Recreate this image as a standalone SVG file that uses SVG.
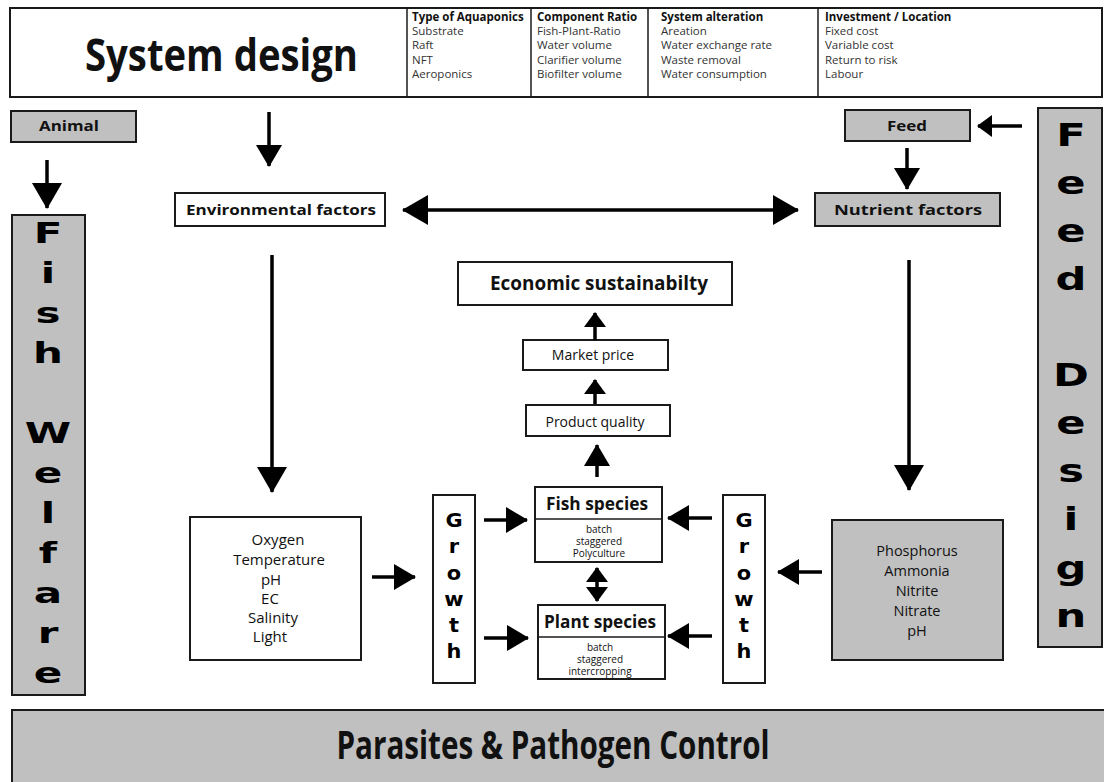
<svg xmlns="http://www.w3.org/2000/svg" width="1104" height="782" viewBox="0 0 1104 782">
<style>
.box{fill:#fff;stroke:#1a1a1a;stroke-width:2}
.gbox{fill:#c0c0c0;stroke:#1a1a1a;stroke-width:2}
.t{font-family:"Open Sans","Liberation Sans",sans-serif;fill:#111}
.b{font-weight:bold}
.hd{font-size:11.5px}
.big{font-family:"DejaVu Sans",sans-serif;font-weight:bold;fill:#000;text-anchor:middle}
.c{text-anchor:middle}
.conn line{stroke:#000;stroke-width:3.5}
</style>
<defs>
<marker id="ahL" markerUnits="userSpaceOnUse" markerWidth="26" markerHeight="32" viewBox="0 0 26 32" refX="25" refY="16" orient="auto-start-reverse"><path d="M0,1 L26,16 L0,31 z" fill="#000"/></marker>
<marker id="ahM" markerUnits="userSpaceOnUse" markerWidth="22" markerHeight="28" viewBox="0 0 22 28" refX="21" refY="14" orient="auto-start-reverse"><path d="M0,1 L22,14 L0,27 z" fill="#000"/></marker>
<marker id="ahS" markerUnits="userSpaceOnUse" markerWidth="15" markerHeight="24" viewBox="0 0 15 24" refX="14" refY="12" orient="auto-start-reverse"><path d="M0,1 L15,12 L0,23 z" fill="#000"/></marker>
</defs>
<rect width="1104" height="782" fill="#fff"/>

<g id="system-design">
<rect class="box" x="10" y="8" width="1092" height="89"/>
<line x1="407" y1="8" x2="407" y2="97" stroke="#1a1a1a" stroke-width="1.5"/>
<line x1="531" y1="8" x2="531" y2="97" stroke="#1a1a1a" stroke-width="1.5"/>
<line x1="648" y1="8" x2="648" y2="97" stroke="#1a1a1a" stroke-width="1.5"/>
<line x1="818" y1="8" x2="818" y2="97" stroke="#1a1a1a" stroke-width="1.5"/>
<text class="t b" x="85" y="71" font-size="44" textLength="273" lengthAdjust="spacingAndGlyphs">System design</text>
<g class="t hd">
<text x="412" y="21" class="b">Type of Aquaponics</text>
<text x="412" y="35" fill="#333">Substrate</text>
<text x="412" y="49" fill="#333">Raft</text>
<text x="412" y="64" fill="#333">NFT</text>
<text x="412" y="78" fill="#333">Aeroponics</text>
<text x="537" y="21" class="b">Component Ratio</text>
<text x="537" y="35" fill="#333">Fish-Plant-Ratio</text>
<text x="537" y="49" fill="#333">Water volume</text>
<text x="537" y="64" fill="#333">Clarifier volume</text>
<text x="537" y="78" fill="#333">Biofilter volume</text>
<text x="661" y="21" class="b">System alteration</text>
<text x="661" y="35" fill="#333">Areation</text>
<text x="661" y="49" fill="#333">Water exchange rate</text>
<text x="661" y="64" fill="#333">Waste removal</text>
<text x="661" y="78" fill="#333">Water consumption</text>
<text x="825" y="21" class="b">Investment / Location</text>
<text x="825" y="35" fill="#333">Fixed cost</text>
<text x="825" y="49" fill="#333">Variable cost</text>
<text x="825" y="64" fill="#333">Return to risk</text>
<text x="825" y="78" fill="#333">Labour</text>
</g>
</g>

<g id="animal">
<rect class="gbox" x="11" y="111" width="125" height="31"/>
<text class="t b c" x="69" y="131" font-size="15" textLength="60" lengthAdjust="spacingAndGlyphs">Animal</text>
</g>

<g id="fish-welfare">
<rect class="gbox" x="12" y="215" width="73" height="480"/>
<g class="big" font-size="28">
<text transform="translate(48,243) scale(1.5,1)">F</text>
<text transform="translate(48,283) scale(1.5,1)">i</text>
<text transform="translate(48,323) scale(1.5,1)">s</text>
<text transform="translate(48,363) scale(1.5,1)">h</text>
<text transform="translate(48,443) scale(1.5,1)">W</text>
<text transform="translate(48,483) scale(1.5,1)">e</text>
<text transform="translate(48,523) scale(1.5,1)">l</text>
<text transform="translate(48,563) scale(1.5,1)">f</text>
<text transform="translate(48,603) scale(1.5,1)">a</text>
<text transform="translate(48,643) scale(1.5,1)">r</text>
<text transform="translate(48,683) scale(1.5,1)">e</text>
</g>
</g>

<g id="feed">
<rect class="gbox" x="845" y="110" width="125" height="31"/>
<text class="t b c" x="907" y="131" font-size="14" textLength="40" lengthAdjust="spacingAndGlyphs">Feed</text>
</g>

<g id="feed-design">
<rect class="gbox" x="1038" y="108" width="64" height="539"/>
<g class="big" font-size="32">
<text transform="translate(1071,146) scale(1.35,1)">F</text>
<text transform="translate(1071,194) scale(1.35,1)">e</text>
<text transform="translate(1071,242) scale(1.35,1)">e</text>
<text transform="translate(1071,290) scale(1.35,1)">d</text>
<text transform="translate(1071,386) scale(1.35,1)">D</text>
<text transform="translate(1071,434) scale(1.35,1)">e</text>
<text transform="translate(1071,482) scale(1.35,1)">s</text>
<text transform="translate(1071,530) scale(1.35,1)">i</text>
<text transform="translate(1071,579) scale(1.35,1)">g</text>
<text transform="translate(1071,627) scale(1.35,1)">n</text>
</g>
</g>

<g id="environmental-factors">
<rect class="box" x="175" y="193" width="210" height="33"/>
<text class="t b c" x="281" y="215" font-size="15" textLength="190" lengthAdjust="spacingAndGlyphs">Environmental factors</text>
</g>

<g id="nutrient-factors">
<rect class="gbox" x="815" y="193" width="185" height="33"/>
<text class="t b c" x="908" y="215" font-size="15" textLength="148" lengthAdjust="spacingAndGlyphs">Nutrient factors</text>
</g>

<g id="economic-sustainability">
<rect class="box" x="458" y="262" width="274" height="43"/>
<text class="t b c" x="599" y="290" font-size="19" textLength="218" lengthAdjust="spacingAndGlyphs">Economic sustainabilty</text>
</g>

<g id="market-price">
<rect class="box" x="523" y="340" width="145" height="30"/>
<text class="t c" x="593" y="360" font-size="14">Market price</text>
</g>

<g id="product-quality">
<rect class="box" x="526" y="405" width="144" height="31"/>
<text class="t c" x="595" y="427" font-size="14">Product quality</text>
</g>

<g id="fish-species">
<rect class="box" x="535" y="487" width="127" height="75"/>
<line x1="535" y1="519" x2="662" y2="519" stroke="#1a1a1a" stroke-width="1.5"/>
<text class="t b c" x="597" y="510" font-size="17" textLength="102" lengthAdjust="spacingAndGlyphs">Fish species</text>
<g class="t c" font-size="10" fill="#333">
<text x="599" y="533">batch</text>
<text x="599" y="545">staggered</text>
<text x="599" y="557">Polyculture</text>
</g>
</g>

<g id="plant-species">
<rect class="box" x="538" y="605" width="127" height="74"/>
<line x1="538" y1="637" x2="665" y2="637" stroke="#1a1a1a" stroke-width="1.5"/>
<text class="t b c" x="600" y="628" font-size="17" textLength="112" lengthAdjust="spacingAndGlyphs">Plant species</text>
<g class="t c" font-size="10" fill="#333">
<text x="600" y="651">batch</text>
<text x="600" y="663">staggered</text>
<text x="600" y="675">intercropping</text>
</g>
</g>

<g id="growth-left">
<rect class="box" x="433" y="495" width="42" height="188"/>
<g class="big" font-size="19">
<text transform="translate(454,527) scale(1.1,1)">G</text>
<text transform="translate(454,553) scale(1.1,1)">r</text>
<text transform="translate(454,580) scale(1.1,1)">o</text>
<text transform="translate(454,606) scale(1.1,1)">w</text>
<text transform="translate(454,632) scale(1.1,1)">t</text>
<text transform="translate(454,658) scale(1.1,1)">h</text>
</g>
</g>

<g id="growth-right">
<rect class="box" x="723" y="495" width="42" height="188"/>
<g class="big" font-size="19">
<text transform="translate(744,527) scale(1.1,1)">G</text>
<text transform="translate(744,553) scale(1.1,1)">r</text>
<text transform="translate(744,580) scale(1.1,1)">o</text>
<text transform="translate(744,606) scale(1.1,1)">w</text>
<text transform="translate(744,632) scale(1.1,1)">t</text>
<text transform="translate(744,658) scale(1.1,1)">h</text>
</g>
</g>

<g id="environment-parameters">
<rect class="box" x="190" y="517" width="171" height="143"/>
<g class="t c" font-size="15">
<text x="278" y="545">Oxygen</text>
<text x="279" y="565">Temperature</text>
<text x="271" y="585">pH</text>
<text x="270" y="604">EC</text>
<text x="273" y="623">Salinity</text>
<text x="270" y="642">Light</text>
</g>
</g>

<g id="nutrient-parameters">
<rect class="gbox" x="832" y="520" width="171" height="140"/>
<g class="t c" font-size="14.5" fill="#222">
<text x="917" y="556">Phosphorus</text>
<text x="917" y="576">Ammonia</text>
<text x="917" y="596">Nitrite</text>
<text x="917" y="616">Nitrate</text>
<text x="917" y="636">pH</text>
</g>
</g>

<g id="parasites-pathogen-control">
<rect class="gbox" x="12" y="710" width="1094" height="76"/>
<text class="t b c" x="553" y="759" font-size="40" textLength="433" lengthAdjust="spacingAndGlyphs">Parasites &amp; Pathogen Control</text>
</g>

<g id="connectors" class="conn">
<line x1="269" y1="112" x2="269" y2="166" marker-end="url(#ahM)"/>
<line x1="47" y1="160" x2="47" y2="208" marker-end="url(#ahL)"/>
<line x1="1022" y1="126" x2="978" y2="126" marker-end="url(#ahS)"/>
<line x1="907" y1="148" x2="907" y2="189" marker-end="url(#ahM)"/>
<line x1="403" y1="210" x2="798" y2="210" marker-start="url(#ahL)" marker-end="url(#ahL)"/>
<line x1="272" y1="255" x2="272" y2="492" marker-end="url(#ahL)"/>
<line x1="909" y1="260" x2="909" y2="490" marker-end="url(#ahL)"/>
<line x1="595" y1="340" x2="595" y2="313" marker-end="url(#ahS)"/>
<line x1="595" y1="404" x2="595" y2="380" marker-end="url(#ahS)"/>
<line x1="597" y1="477" x2="597" y2="445" marker-end="url(#ahM)"/>
<line x1="597" y1="568" x2="597" y2="601" marker-start="url(#ahS)" marker-end="url(#ahS)"/>
<line x1="372" y1="577" x2="415" y2="577" marker-end="url(#ahM)"/>
<line x1="484" y1="520" x2="527" y2="520" marker-end="url(#ahM)"/>
<line x1="484" y1="638" x2="528" y2="638" marker-end="url(#ahM)"/>
<line x1="712" y1="518" x2="668" y2="518" marker-end="url(#ahM)"/>
<line x1="712" y1="636" x2="668" y2="636" marker-end="url(#ahM)"/>
<line x1="822" y1="572" x2="778" y2="572" marker-end="url(#ahM)"/>
</g>
</svg>
